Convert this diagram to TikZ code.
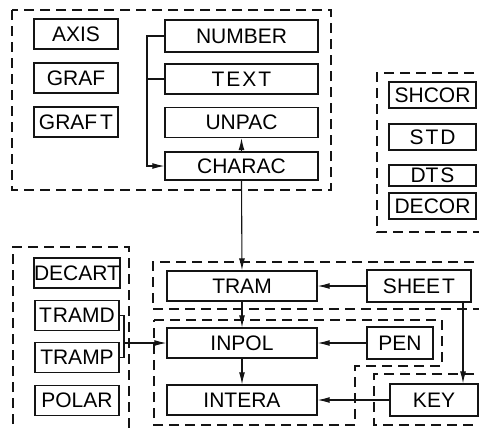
\documentclass[tikz,border=0pt]{standalone}
\usepackage{fontspec}
\setmainfont{Liberation Sans}
\usepackage{tikz}
\usetikzlibrary{arrows.meta,positioning,calc}
\definecolor{inkBlack}{HTML}{141414}

\begin{document}
\begin{tikzpicture}[x=1pt, y=-1pt, font=\fontsize{21}{22}\selectfont, >={Latex[length=12pt,width=6pt]},
  blk/.style={draw=inkBlack,line width=1.3pt,minimum height=30pt,inner sep=0pt},
  grp/.style={draw=inkBlack,line width=1.2pt,dash pattern=on 10pt off 6pt},
  lnk/.style={draw=inkBlack,line width=1.1pt}]
\useasboundingbox (0,0) rectangle (479,429);
% --- plotting group ---
\begin{scope}
  \draw[grp] (12,10) rectangle (331,190);
  \node[blk,minimum width=84pt] (axis) at (76,34) {AXIS};
  \node[blk,minimum width=84pt] (graf) at (76,78) {GRAF};
  \node[blk,minimum width=84pt] (graft) at (76,122) {GRAF\kern3pt T};
  \node[blk,minimum width=153pt,minimum height=32pt] (number) at (241.5,36) {NUMBER};
  \node[blk,minimum width=153pt] (text) at (241.5,79) {T\kern2pt E\kern2pt X\kern2pt T};
  \node[blk,minimum width=153pt] (unpac) at (241.5,122.5) {UNPAC};
  \node[blk,minimum width=153pt,minimum height=28pt] (charac) at (241.5,166) {CHARAC};
  \coordinate (bus) at (147,36);
  \draw[lnk,->] (number.west) -- (bus) |- (charac.west);
  \draw[lnk] (text.west) -- (text.west -| bus);
  \draw[lnk,->] (charac.north) -- (unpac.south);
\end{scope}
% --- corner group ---
\begin{scope}
  \draw[grp] (490,73) -- (377,73) -- (377,232) -- (490,232);
  \node[blk,minimum width=87pt,minimum height=26pt] (shcor) at (432.5,95) {SHCOR};
  \node[blk,minimum width=87pt,minimum height=26pt] (std) at (432.5,137) {S\kern2pt T\kern2pt D};
  \node[blk,minimum width=87pt,minimum height=21pt] (dts) at (432.5,175.5) {DT\kern2pt S};
  \node[blk,minimum width=87pt,minimum height=26pt] (decor) at (432.5,206) {DECOR};
\end{scope}
% --- transform group ---
\begin{scope}
  \draw[grp] (13,440) -- (13,247) -- (129,247) -- (129,440);
  \node[blk,minimum width=84pt] (decart) at (77,273) {DECART};
  \node[blk,minimum width=84pt] (tramd) at (77,315.5) {T\kern1pt RAMD};
  \node[blk,minimum width=84pt] (tramp) at (77,357.5) {TRAMP};
  \node[blk,minimum width=84pt] (polar) at (77,400.5) {POLAR};
  \coordinate (jn) at (124,343);
  \draw[lnk] (tramd.east) -| (jn) |- (tramp.east);
\end{scope}
% --- main chain ---
\begin{scope}
  \draw[grp] (490,262) -- (153,262) -- (153,309) -- (490,309);
  \draw[grp] (154,320) -- (442,320) -- (442,366) -- (355,366) -- (355,425) -- (154,425) -- cycle;
  \draw[grp] (490,374) -- (374,374) -- (374,425) -- (490,425);
  \node[blk,minimum width=150pt] (tram) at (242,286) {TRAM};
  \node[blk,minimum width=150pt] (inpol) at (242,343) {INPOL};
  \node[blk,minimum width=150pt] (intera) at (242,400) {INTERA};
  \node[blk,minimum width=104pt,minimum height=32pt] (sheet) at (419,286) {SHEE\kern2pt T};
  \node[blk,minimum width=66pt,minimum height=32pt] (pen) at (400,343) {PEN};
  \node[blk,minimum width=88pt,minimum height=32pt] (key) at (434,400) {KEY};
  \draw[lnk,->] (charac.south) -- (tram.north);
  \draw[lnk,->] (tram) -- (inpol);
  \draw[lnk,->] (inpol) -- (intera);
  \draw[lnk,->] (sheet) -- (tram);
  \draw[lnk,->] (pen) -- (inpol);
  \draw[lnk,->] (key) -- (intera);
  \draw[lnk,->] (jn) -- (inpol.west);
  \draw[lnk,->] ([xshift=44pt]sheet.south) -- ([xshift=44pt]sheet.south |- key.north);
\end{scope}
\end{tikzpicture}
\end{document}
